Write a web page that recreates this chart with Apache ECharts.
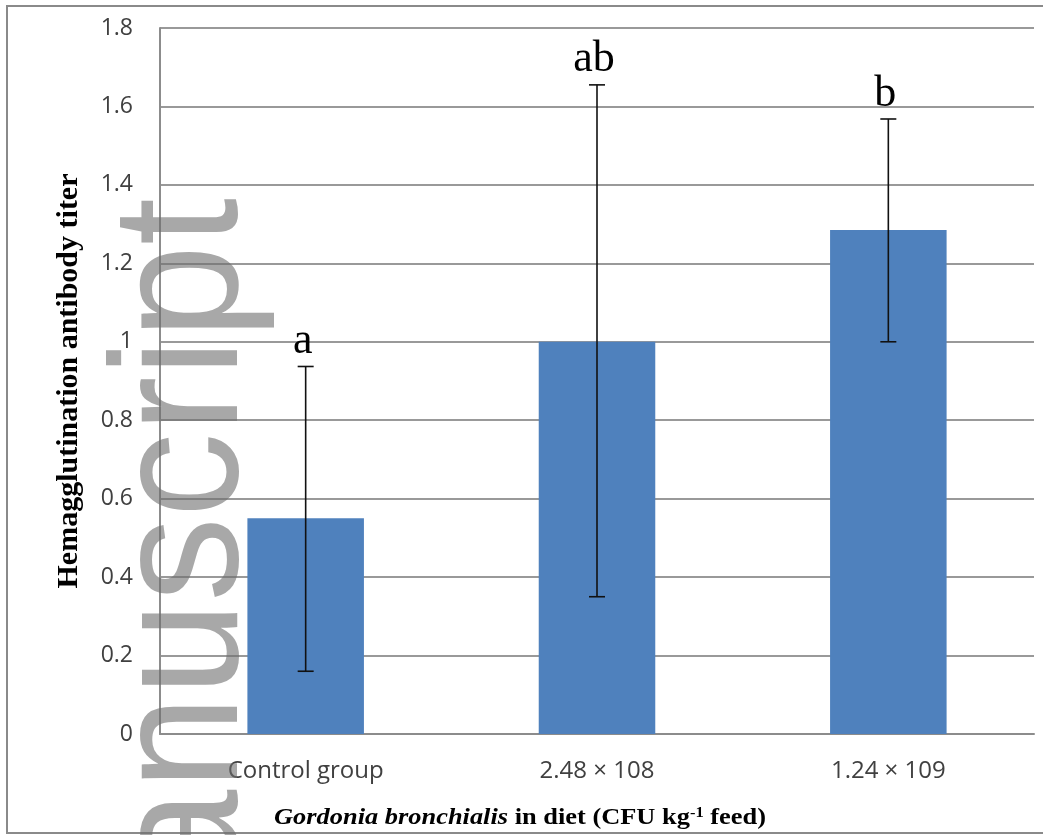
<!doctype html>
<html lang="en">
	<head>
		<meta charset="UTF-8">
		<title>echarts</title>
		<script src="https://cdn.jsdelivr.net/npm/echarts@6/dist/echarts.min.js"></script>
		<style>
			html, body { margin: 0; padding: 0; background: #fff; }
		</style>
	</head>
	<body>
		<div id="main" style="width: 1043px; height: 835px;"></div>
		<script>
			// groups on the x axis
			let categories = ['Control group', '2.48 × 108', '1.24 × 109']
			// mean titer
			let titer = [0.55, 1.0, 1.285]
			// error bar ends (low, high)
			let errLow = [0.16, 0.35, 1.0]
			let errHigh = [0.937, 1.655, 1.568]
			// significance letters
			let sigLetters = ['a', 'ab', 'b']

			let errData = []
			for (let i = 0; i < categories.length; i++) {
				errData.push([i, errLow[i], errHigh[i], sigLetters[i]])
			}

			let mCharts = echarts.init(document.getElementById('main'))
			let option = {
				backgroundColor: '#fff',
				animation: false,
				grid: {
					left: 160,
					right: 9,
					top: 28,
					bottom: 101
				},
				xAxis: {
					type: 'category',
					data: categories,
					axisLine: { lineStyle: { color: '#8c8c8c', width: 2 } },
					axisTick: { show: false },
					axisLabel: {
						margin: 25,
						fontFamily: 'Open Sans',
						fontSize: 24,
						color: '#404040'
					}
				},
				yAxis: {
					type: 'value',
					min: 0,
					max: 1.8,
					interval: 0.2,
					name: 'Hemagglutination antibody titer',
					nameLocation: 'middle',
					nameGap: 76,
					nameTextStyle: {
						fontFamily: 'Liberation Serif',
						fontWeight: 'bold',
						fontSize: 30,
						color: '#000'
					},
					axisLine: { show: true, lineStyle: { color: '#8c8c8c', width: 2 } },
					axisTick: { show: false },
					axisLabel: {
						margin: 27,
						fontFamily: 'Open Sans',
						fontSize: 23,
						color: '#404040'
					},
					splitLine: { lineStyle: { color: '#999', width: 2 } }
				},
				graphic: [
					{
						// outer frame
						type: 'rect',
						shape: { x: 7, y: 6, width: 1060, height: 827 },
						style: { fill: 'none', stroke: '#8a8a8a', lineWidth: 2 },
						z: 1
					},
					{
						type: 'text',
						x: 520,
						y: 818,
						scaleX: 1.1,
						style: {
							text: '{i|Gordonia bronchialis} in diet (CFU kg{s|-1} feed)',
							align: 'center',
							verticalAlign: 'middle',
							font: 'bold 24px "Liberation Serif"',
							fill: '#000',
							rich: {
								i: { fontStyle: 'italic', fontWeight: 'bold', fontFamily: 'Liberation Serif', fontSize: 24 },
								s: { fontWeight: 'bold', fontFamily: 'Liberation Serif', fontSize: 15, verticalAlign: 'top', padding: [0, 0, 10, 0] }
							}
						},
						z: 10
					},
					{
						// watermark
						type: 'text',
						x: 187,
						y: 198,
						rotation: Math.PI / 2,
						scaleY: 1.07,
						style: {
							text: 'anuscript',
							align: 'right',
							verticalAlign: 'middle',
							font: '169px "Liberation Sans"',
							fill: 'rgba(110,110,110,0.6)'
						},
						z: 20
					}
				],
				series: [
					{
						type: 'bar',
						data: titer,
						barWidth: '40%',
						itemStyle: { color: '#4f81bd' }
					},
					{
						type: 'custom',
						data: errData,
						z: 5,
						renderItem: (params, api) => {
							let x = api.value(0)
							let lo = api.coord([x, api.value(1)])
							let hi = api.coord([x, api.value(2)])
							let cap = 8
							let st = { stroke: '#111', lineWidth: 1.6 }
							return {
								type: 'group',
								children: [
									{ type: 'line', shape: { x1: lo[0], y1: lo[1], x2: hi[0], y2: hi[1] }, style: st },
									{ type: 'line', shape: { x1: lo[0] - cap, y1: lo[1], x2: lo[0] + cap, y2: lo[1] }, style: st },
									{ type: 'line', shape: { x1: hi[0] - cap, y1: hi[1], x2: hi[0] + cap, y2: hi[1] }, style: st },
									{
										type: 'text',
										x: hi[0] - 3,
										y: hi[1] - 3,
										style: {
											text: api.value(3),
											align: 'center',
											verticalAlign: 'bottom',
											font: '44px "Liberation Serif"',
											fill: '#000'
										}
									}
								]
							}
						}
					}
				]
			}
			mCharts.setOption(option)
		</script>
	</body>
</html>
